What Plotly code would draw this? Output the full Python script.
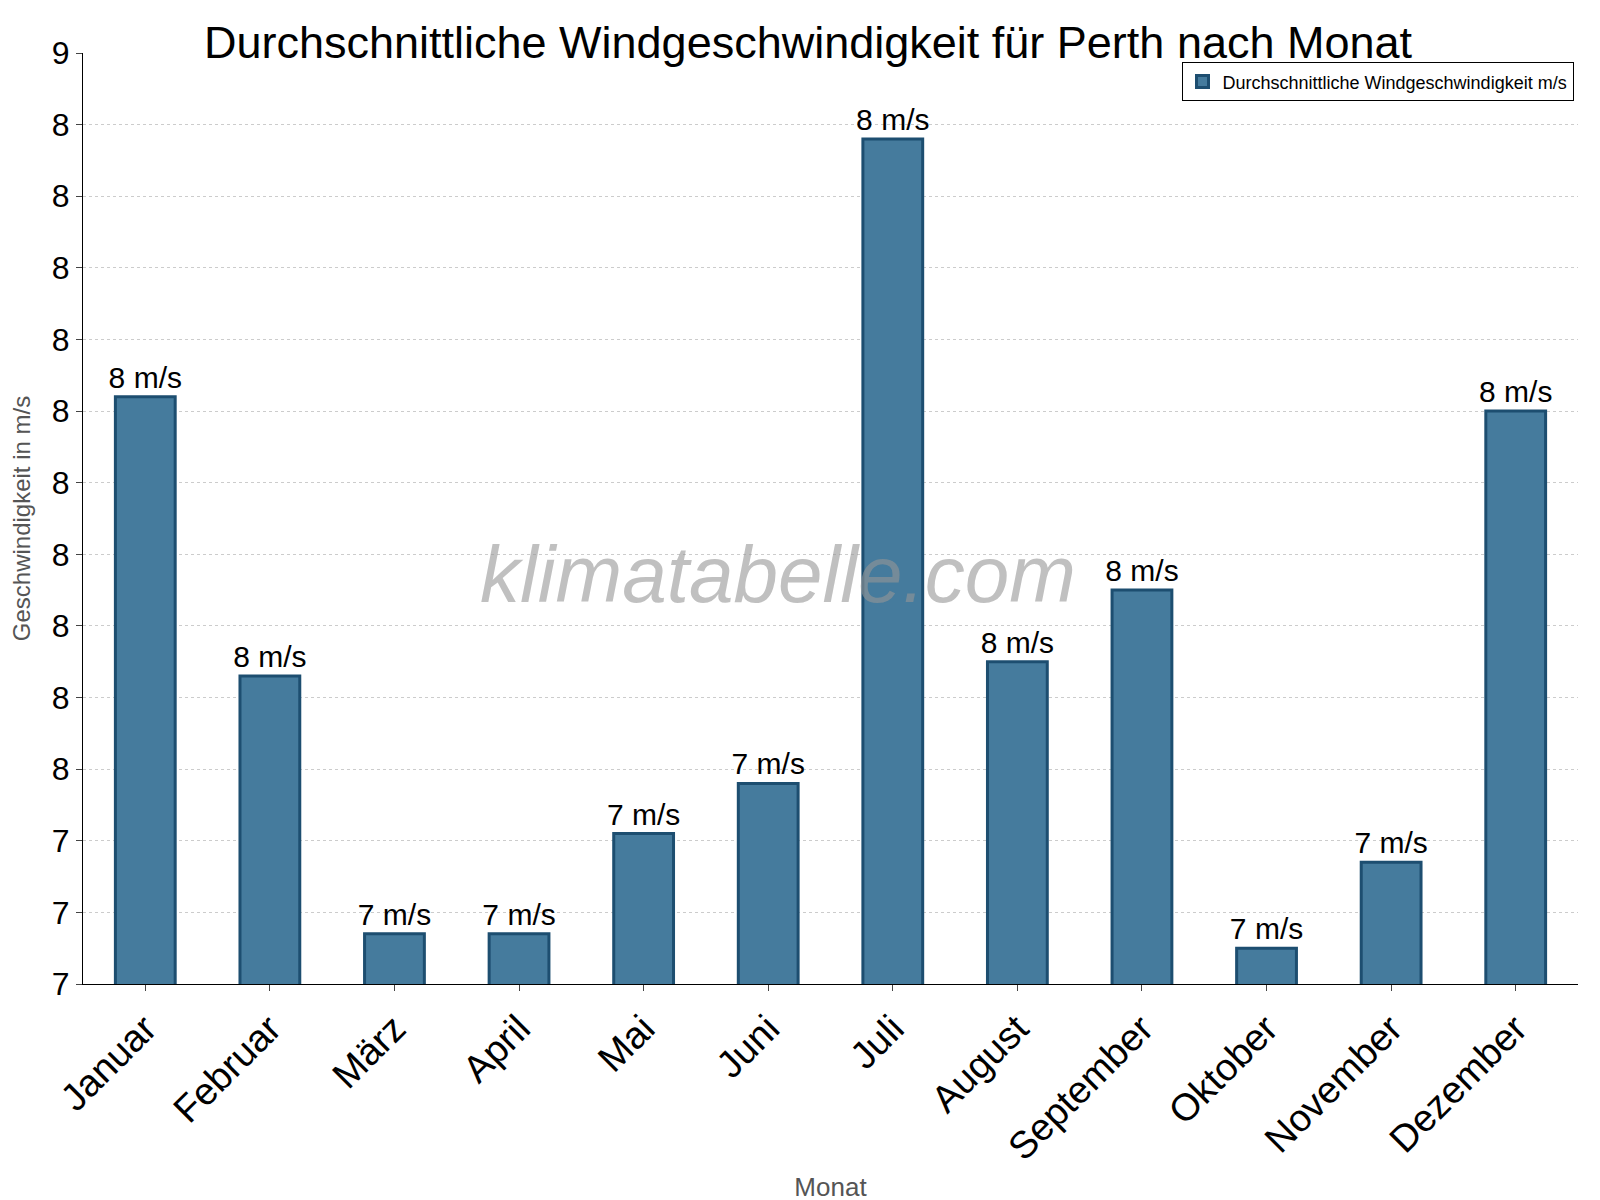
import plotly.graph_objects as go

# data
months = ["Januar", "Februar", "März", "April", "Mai", "Juni", "Juli",
          "August", "September", "Oktober", "November", "Dezember"]
wind = [8.02, 7.63, 7.27, 7.27, 7.41, 7.48, 8.38, 7.65, 7.75, 7.25, 7.37, 8.0]
tick_vals = [7.2 + 0.1 * i for i in range(14)]
tick_text = [str(int(round(v + 1e-9))) for v in tick_vals]

fig = go.Figure()
fig.add_trace(go.Bar(
    x=months, y=wind,
    name="Durchschnittliche Windgeschwindigkeit m/s",
    marker=dict(color="#457b9d", line=dict(color="#1d4e70", width=3)),
    width=0.48,
    text=[f"{round(v)} m/s" for v in wind], textposition="outside",
    constraintext="none",
    textfont=dict(size=30, color="black"), cliponaxis=False,
))

fig.add_annotation(text="<i>klimatabelle.com</i>", x=0.465, y=0.44, xref="paper", yref="paper",
                   showarrow=False, font=dict(size=80, color="rgba(150,150,150,0.6)",
                                              family="Liberation Sans"),
                   xanchor="center")

fig.update_layout(
    width=1600, height=1200,
    paper_bgcolor="white", plot_bgcolor="white",
    font=dict(family="Liberation Sans, Arial", color="black"),
    title=dict(text="Durchschnittliche Windgeschwindigkeit für Perth nach Monat",
               x=0.5, y=0.985, xanchor="center", font=dict(size=45)),
    margin=dict(l=48, r=30, t=45, b=212),
    showlegend=True,
    legend=dict(x=0.997, y=0.99, xanchor="right", yanchor="top",
                bordercolor="black", borderwidth=1, font=dict(size=18)),
)
fig.update_xaxes(title=dict(text="Monat", font=dict(size=26, color="#555"), standoff=10),
                 tickangle=-45, tickfont=dict(size=38), showline=True,
                 linecolor="black", ticks="outside", ticklen=6)
fig.update_yaxes(title=dict(text="Geschwindigkeit in m/s", font=dict(size=24, color="#555")),
                 range=[7.2, 8.5], tickvals=tick_vals, ticktext=tick_text,
                 tickfont=dict(size=32), showgrid=True, gridcolor="#ccc", griddash="dot",
                 showline=True, linecolor="black", ticks="outside", ticklen=6)

fig.write_html("out.html")
